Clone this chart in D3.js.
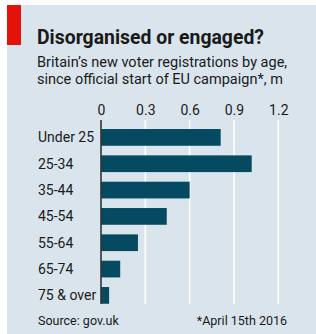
<!DOCTYPE html>
<html>
<head>
<meta charset="utf-8">
<script src="https://cdn.jsdelivr.net/npm/d3@7"></script>
<style>
  body { margin: 0; background: #fff; }
  svg { display: block; }
  text { font-family: Roboto, "Noto Sans", sans-serif; fill: #1a1a1a; }
</style>
</head>
<body>
<svg class="chart"></svg>
<script>
const ageGroups = ["Under 25", "25-34", "35-44", "45-54", "55-64", "65-74", "75 & over"];
const registrations = [0.81, 1.02, 0.60, 0.445, 0.25, 0.13, 0.055]; // millions
const tickValues = [0, 0.3, 0.6, 0.9, 1.2];

const W = 316, H = 334;
const svg = d3.select(".chart").attr("width", W).attr("height", H);

// panel + red tag
svg.append("rect").attr("x", 7).attr("y", 5).attr("width", W - 7).attr("height", H - 5).attr("fill", "#d9e4ec");
svg.append("rect").attr("x", 7).attr("y", 5).attr("width", 14).attr("height", 40).attr("fill", "#e3120b");

svg.append("text").attr("x", 37).attr("y", 44)
  .style("font-size", "19.4px").style("font-weight", "bold")
  .text("Disorganised or engaged?");
svg.append("text").attr("x", 37).attr("y", 67).style("font-size", "14.5px")
  .text("Britain\u2019s new voter registrations by age,");
svg.append("text").attr("x", 37).attr("y", 84).style("font-size", "14.5px")
  .text("since official start of EU campaign*, m");

const x = d3.scaleLinear().domain([0, 1.2]).range([101, 278.3]);
const y = d3.scaleBand().domain(ageGroups).range([124.3, 308.5]).paddingInner(0.365).paddingOuter(0.18);

// gridlines
svg.append("g").selectAll("line").data(tickValues.slice(1)).enter().append("line")
  .attr("x1", d => x(d)).attr("x2", d => x(d))
  .attr("y1", 120).attr("y2", 304)
  .attr("stroke", "#fff").attr("stroke-width", 1.6);

// top tick labels
const xAxis = d3.axisTop(x).tickValues(tickValues).tickSize(0).tickPadding(0)
  .tickFormat(d => d === 0 ? "0" : d3.format(".1f")(d));
const ax = svg.append("g").attr("transform", "translate(0,115)").call(xAxis);
ax.select(".domain").remove();
ax.selectAll("text").style("font-size", "14px").attr("fill", "#1a1a1a");

// bars
svg.append("g").selectAll("rect").data(registrations).enter().append("rect")
  .attr("x", x(0))
  .attr("y", (d, i) => y(ageGroups[i]))
  .attr("width", d => x(d) - x(0))
  .attr("height", y.bandwidth())
  .attr("fill", "#054a60");

// zero line
svg.append("line").attr("x1", x(0)).attr("x2", x(0)).attr("y1", 120).attr("y2", 304)
  .attr("stroke", "#333").attr("stroke-width", 1.6);

// category labels
svg.append("g").selectAll("text").data(ageGroups).enter().append("text")
  .attr("x", 38)
  .attr("y", d => y(d) + y.bandwidth() / 2 + 5)
  .style("font-size", "14px")
  .text(d => d);

svg.append("text").attr("x", 38).attr("y", 325).style("font-size", "12.5px").text("Source: gov.uk");
svg.append("text").attr("x", 287).attr("y", 325).attr("text-anchor", "end").style("font-size", "12.5px").text("*April 15th 2016");
</script>
</body>
</html>
